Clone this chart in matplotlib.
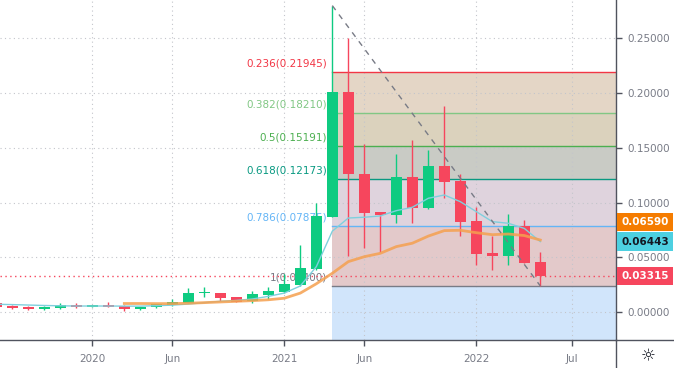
import matplotlib
matplotlib.use('Agg')
import matplotlib.pyplot as plt
from matplotlib.lines import Line2D

# Candles mensais, índice 0 = jan/2020
meses = list(range(-6, 29))
aberturas = [0.0082, 0.0060, 0.0051, 0.0033, 0.0039, 0.0069, 0.0051, 0.0060, 0.0060, 0.0030,
             0.0046, 0.0067, 0.0088, 0.0172, 0.0173, 0.0140, 0.0103, 0.0161, 0.0185, 0.0249,
             0.0395, 0.0872, 0.2013, 0.1262, 0.0915, 0.0888, 0.1237, 0.0954, 0.1335, 0.1198,
             0.0833, 0.0541, 0.0516, 0.0787, 0.0459]
maximas = [0.0085, 0.0062, 0.0053, 0.0053, 0.0085, 0.0085, 0.0070, 0.0091, 0.0064, 0.0051,
           0.0080, 0.0119, 0.0222, 0.0228, 0.0175, 0.0142, 0.0197, 0.0228, 0.0349, 0.0614,
           0.0995, 0.2798, 0.2500, 0.1536, 0.0918, 0.1444, 0.1572, 0.1481, 0.1882, 0.1262,
           0.0964, 0.0699, 0.0897, 0.0842, 0.0550]
minimas = [0.0048, 0.0033, 0.0024, 0.0021, 0.0033, 0.0039, 0.0048, 0.0051, 0.0015, 0.0024,
           0.0040, 0.0060, 0.0082, 0.0137, 0.0100, 0.0097, 0.0085, 0.0119, 0.0173, 0.0240,
           0.0390, 0.0867, 0.0514, 0.0584, 0.0553, 0.0818, 0.0812, 0.0945, 0.1040, 0.0699,
           0.0432, 0.0386, 0.0434, 0.0450, 0.0240]
fechamentos = [0.0051, 0.0042, 0.0033, 0.0051, 0.0069, 0.0048, 0.0064, 0.0052, 0.0030, 0.0050,
               0.0073, 0.0097, 0.0173, 0.0174, 0.0130, 0.0098, 0.0164, 0.0197, 0.0258, 0.0401,
               0.0879, 0.2013, 0.1259, 0.0909, 0.0888, 0.1237, 0.0954, 0.1335, 0.1192, 0.0827,
               0.0535, 0.0516, 0.0787, 0.0453, 0.03315]

# Médias móveis
media_curta = [0.0073, 0.0070, 0.0066, 0.0062, 0.0059, 0.0057, 0.0057, 0.0057, 0.0056, 0.0056,
               0.0060, 0.0065, 0.0075, 0.0088, 0.0100, 0.0108, 0.0121, 0.0145, 0.0175, 0.0240,
               0.0416, 0.0740, 0.0860, 0.0867, 0.0879, 0.0927, 0.0958, 0.1040, 0.1070, 0.1009,
               0.0918, 0.0827, 0.0812, 0.0765, 0.06443]
media_longa = [0.0080, 0.0080, 0.0079, 0.0079, 0.0082, 0.0088, 0.0094, 0.0100, 0.0106, 0.0114,
               0.0128, 0.0175, 0.0260, 0.0356, 0.0462, 0.0507, 0.0538, 0.0599, 0.0630, 0.0695,
               0.0745, 0.0748, 0.0726, 0.0708, 0.0714, 0.0700, 0.0659]
inicio_media_longa = 2

# Retração de Fibonacci
fib_niveis = [0.236, 0.382, 0.5, 0.618, 0.786, 1]
fib_precos = [0.21945, 0.18210, 0.15191, 0.12173, 0.07875, 0.02400]
fib_cores = ['#f23645', '#81c784', '#4caf50', '#089981', '#64b5f6', '#787b86']
fib_zonas = ['#e4d6c6', '#dbd2bd', '#c9cbc5', '#dfd3dd', '#e3c9ca']
zona_azul = '#d1e5fb'

xticks = [0, 5, 12, 17, 24, 30]
xlabels = ['2020', 'Jun', '2021', 'Jun', '2022', 'Jul']
yticks = [0.0, 0.05, 0.10, 0.15, 0.20, 0.25]

verde = '#0ecb81'
vermelho = '#f6465d'
cinza_texto = '#787b86'
cinza_eixo = '#50535e'

fig = plt.figure(figsize=(6.74, 3.68), dpi=100)
ax = fig.add_axes([0, 28 / 368, 616 / 674, 340 / 368])
xmin, xmax = -5.77, 32.73
ax.set_xlim(xmin, xmax)
ax.set_ylim(-0.0253, 0.2849)

# Zonas e linhas do Fibonacci
i_topo = maximas.index(max(maximas))
x0 = meses[i_topo]
for k in range(len(fib_zonas)):
    ax.fill_between([x0, xmax], fib_precos[k + 1], fib_precos[k], color=fib_zonas[k], lw=0, zorder=0.2)
ax.fill_between([x0, xmax], -1, fib_precos[-1], color=zona_azul, lw=0, zorder=0.2)
for nivel, preco, cor in zip(fib_niveis, fib_precos, fib_cores):
    ax.plot([x0, xmax], [preco, preco], color=cor, lw=1, zorder=1)
    ax.annotate(f'{nivel:g}({preco:.5f})', xy=(x0, preco), xytext=(-5, 3), textcoords='offset pixels',
                ha='right', va='bottom', color=cor, fontsize=7.5, zorder=1.5)

# Grade
ax.set_axisbelow(True)
ax.grid(True, color='#c3c5cb', linestyle=(0, (1, 3)), linewidth=0.8)
for gl in ax.get_xgridlines() + ax.get_ygridlines():
    gl.set_zorder(0.5)

# Candles
cores = [verde if c >= o else vermelho for o, c in zip(aberturas, fechamentos)]
ax.vlines(meses, minimas, maximas, colors=cores, lw=1, zorder=3)
base = [min(o, c) for o, c in zip(aberturas, fechamentos)]
altura = [max(abs(c - o), 0.0012) for o, c in zip(aberturas, fechamentos)]
ax.bar(meses, altura, bottom=base, width=0.66, color=cores, lw=0, zorder=3)

# Médias
ax.plot(meses, media_curta, color='#7fd0dd', lw=1, zorder=4)
ax.plot(meses[meses.index(inicio_media_longa):], media_longa, color='#f5a04f', lw=2, alpha=0.85, zorder=4)

# Linha de tendência
ax.plot([x0, meses[-1]], [max(maximas), minimas[-1]], color='#787b86', lw=1,
        linestyle=(0, (4, 4)), zorder=5)

# Preço atual
ax.axhline(fechamentos[-1], color=vermelho, linestyle=(0, (1, 2.5)), lw=1, zorder=2)

# Eixos
ax.set_xticks(xticks)
ax.set_xticklabels(xlabels)
ax.set_yticks(yticks)
ax.set_yticklabels([f'{v:.5f}' for v in yticks])
ax.yaxis.tick_right()
ax.tick_params(axis='both', colors=cinza_eixo, labelcolor=cinza_texto, labelsize=7.5, length=4, width=1)
ax.tick_params(axis='x', pad=6)
ax.tick_params(axis='y', pad=4)
for lado in ['top', 'left']:
    ax.spines[lado].set_visible(False)
for lado in ['right', 'bottom']:
    ax.spines[lado].set_color(cinza_eixo)
    ax.spines[lado].set_linewidth(1)
fig.add_artist(Line2D([616 / 674, 1], [28 / 368, 28 / 368], color=cinza_eixo, lw=1))
fig.add_artist(Line2D([616 / 674, 616 / 674], [0, 28 / 368], color=cinza_eixo, lw=1))

# Etiquetas de preço à direita
def etiqueta(valor, cor_fundo, cor_texto, deslocamento=0):
    ax.annotate(f'{valor:.5f}', xy=(1, valor), xycoords=('axes fraction', 'data'),
                xytext=(29, deslocamento), textcoords='offset pixels', ha='center', va='center',
                fontsize=7.5, fontweight='bold', color=cor_texto, annotation_clip=False, zorder=10,
                bbox=dict(boxstyle='square,pad=0.42', fc=cor_fundo, ec='none'))

etiqueta(media_longa[-1], '#f57c00', 'white', deslocamento=18)
etiqueta(media_curta[-1], '#4dd0e1', '#131722')
etiqueta(fechamentos[-1], vermelho, 'white')

fig.text(648 / 674, 1 - 356 / 368, '☼', ha='center', va='center', fontsize=12, color='#131722')

fig.savefig('out.png', dpi=100)
